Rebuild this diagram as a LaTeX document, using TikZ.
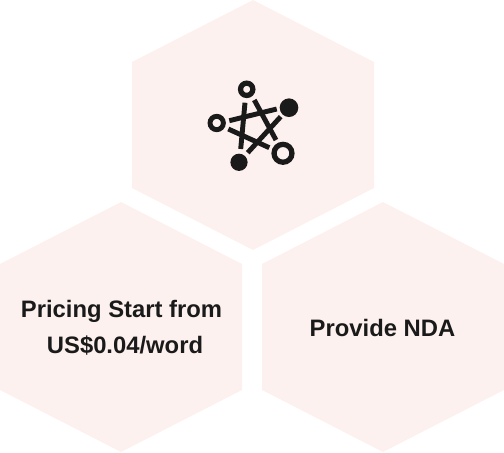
\documentclass[tikz,border=0pt]{standalone}
\usepackage{fontspec}
\setmainfont{Liberation Sans}
\definecolor{hexpink}{HTML}{FDF1EF}
\definecolor{inkdark}{HTML}{1A1A1A}
\tikzset{
    hexcell/.style={fill=hexpink, draw=none},
    hexlabel/.style={text=inkdark, font=\fontsize{13.55}{20.5}\selectfont\bfseries, align=center, inner sep=0pt},
    ring/.style={circle, draw=inkdark, fill=none, inner sep=0pt},
    dot/.style={circle, fill=inkdark, inner sep=0pt},
    spoke/.style={draw=inkdark, line width=2.8pt}
}
\begin{document}
\begin{tikzpicture}[x=0.02cm, y=-0.02cm]
    \useasboundingbox (0,0) rectangle (504,453);

    % hexagons
    \foreach \cx/\cy in {253/125, 121/327, 383/327}{
        \fill [hexcell] (\cx,\cy-125) -- (\cx+121,\cy-63) -- (\cx+121,\cy+63) -- (\cx,\cy+125) -- (\cx-121,\cy+63) -- (\cx-121,\cy-63) -- cycle;
    }

    \node [hexlabel] (Pricing) at (121.5,327.5) {Pricing Start from\\\hspace*{4pt}US\$0.04/word};
    \node [hexlabel] (NDA) at (382.5,328) {Provide NDA};

    % icon
    \node [ring, line width=3pt, minimum size=7pt] (RingTop) at (246.7,89.3) {};
    \node [ring, line width=2.8pt, minimum size=7.6pt] (RingLeft) at (216.7,123) {};
    \node [ring, line width=3pt, minimum size=10.2pt] (RingRight) at (283,153.3) {};
    \node [dot, minimum size=10.6pt] (DotRight) at (289,107.7) {};
    \node [dot, minimum size=9.8pt] (DotLeft) at (239,162.3) {};

    \coordinate (A1) at (245,102.7);
    \coordinate (A2) at (240.7,149);
    \coordinate (B1) at (254.3,100);
    \coordinate (B2) at (276,140);
    \coordinate (C1) at (229.3,120.7);
    \coordinate (C2) at (276.7,109);
    \coordinate (D1) at (228.3,129);
    \coordinate (D2) at (269.3,147.7);
    \coordinate (E1) at (280.7,116.7);
    \coordinate (E2) at (247.7,152.7);

    \draw [spoke] (A1) -- (A2);
    \draw [spoke] (B1) -- (B2);
    \draw [spoke] (C1) -- (C2);
    \draw [spoke] (D1) -- (D2);
    \draw [spoke] (E1) -- (E2);
\end{tikzpicture}
\end{document}
